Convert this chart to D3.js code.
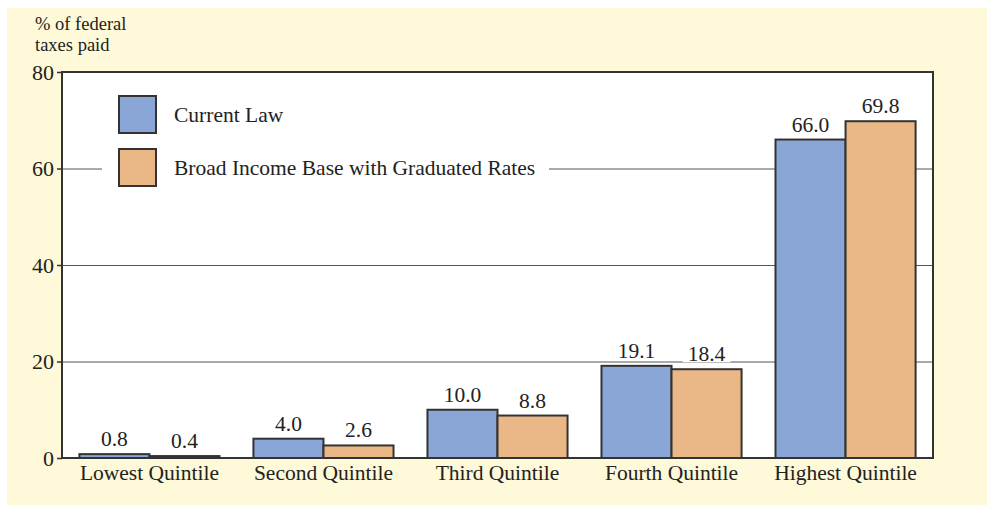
<!DOCTYPE html>
<html><head><meta charset="utf-8">
<script src="https://cdn.jsdelivr.net/npm/d3@7"></script>
<style>
html,body{margin:0;padding:0;background:#fff;}
text{font-family:"Liberation Serif","Times New Roman",serif;fill:#222;}
</style></head>
<body>
<svg id="chart" width="987" height="508"></svg>
<script>
const categories = ["Lowest Quintile","Second Quintile","Third Quintile","Fourth Quintile","Highest Quintile"];
const seriesNames = ["Current Law","Broad Income Base with Graduated Rates"];
const currentLaw = [0.8, 4.0, 10.0, 19.1, 66.0];
const broadBase = [0.4, 2.6, 8.8, 18.4, 69.8];
const yTicks = [0, 20, 40, 60, 80];
const yTitle = ["% of federal", "taxes paid"];
const colors = ["#8aa6d6", "#eab787"];
const FS = "21.5px";

const svg = d3.select("#chart");
svg.append("rect").attr("x",7).attr("y",8).attr("width",980).attr("height",497).attr("fill","#fef9d8");

const L = 62, R = 933, T = 72, B = 458;
const x0 = d3.scaleBand().domain(categories).range([L, R]).paddingInner(0.195).paddingOuter(0.1);
const x1 = d3.scaleBand().domain([0,1]).range([0, x0.bandwidth()]);
const y = d3.scaleLinear().domain([0, 80]).range([B, T]);

svg.append("rect").attr("x",L).attr("y",T).attr("width",R-L).attr("height",B-T).attr("fill","#fff");

// gridlines
svg.append("g").selectAll("line").data(yTicks.filter(d=>d>0 && d<80)).join("line")
  .attr("x1",L).attr("x2",R).attr("y1",d=>y(d)+0.5).attr("y2",d=>y(d)+0.5)
  .attr("stroke","#555").attr("stroke-width",1);

// axis
const yAxis = d3.axisLeft(y).tickValues(yTicks).tickSize(5).tickPadding(3).tickFormat(d3.format("d"));
const ag = svg.append("g").attr("transform",`translate(${L},0)`).call(yAxis);
ag.select(".domain").remove();
ag.selectAll(".tick line").attr("stroke","#333").attr("stroke-width",1.5);
ag.selectAll(".tick text").style("font-size","22px").attr("fill","#222").style("font-family","Liberation Serif, serif");

// legend background
const lg = svg.append("g");
lg.append("rect").attr("x",102).attr("y",90).attr("width",447).attr("height",100).attr("fill","#fff");
seriesNames.forEach((n,i)=>{
  lg.append("rect").attr("x",119).attr("y",96+i*53).attr("width",37).attr("height",37)
    .attr("fill",colors[i]).attr("stroke","#333").attr("stroke-width",2);
  lg.append("text").attr("x",174).attr("y",122+i*53).style("font-size",FS).text(n);
});

// bars
const data = categories.map((c,i)=>({cat:c, vals:[currentLaw[i], broadBase[i]]}));
const groups = svg.append("g").selectAll("g").data(data).join("g")
  .attr("transform",d=>`translate(${x0(d.cat)},0)`);
groups.selectAll("rect").data(d=>d.vals.map((v,i)=>({v,i}))).join("rect")
  .attr("x",d=>x1(d.i)).attr("width",x1.bandwidth())
  .attr("y",d=>y(d.v)).attr("height",d=>B-y(d.v))
  .attr("fill",d=>colors[d.i]).attr("stroke","#333").attr("stroke-width",2);

// value labels with white backing
const lbl = groups.selectAll("g.lbl").data(d=>d.vals.map((v,i)=>({v,i}))).join("g").attr("class","lbl");
lbl.append("rect")
  .attr("x",d=>x1(d.i)+x1.bandwidth()/2-24).attr("y",d=>y(d.v)-28)
  .attr("width",48).attr("height",21).attr("fill","#fff");
lbl.append("text").attr("x",d=>x1(d.i)+x1.bandwidth()/2).attr("y",d=>y(d.v)-8)
  .attr("text-anchor","middle").style("font-size",FS).text(d=>d3.format(".1f")(d.v));

// plot frame
svg.append("rect").attr("x",L).attr("y",T).attr("width",R-L).attr("height",B-T)
  .attr("fill","none").attr("stroke","#333").attr("stroke-width",2);

// category labels
svg.append("g").selectAll("text").data(categories).join("text")
  .attr("x",d=>x0(d)+x0.bandwidth()/2).attr("y",480).attr("text-anchor","middle")
  .style("font-size",FS).text(d=>d);

// y title
svg.append("g").selectAll("text").data(yTitle).join("text")
  .attr("x",35).attr("y",(d,i)=>30+i*21).style("font-size","18.5px").text(d=>d);
</script>
</body></html>
